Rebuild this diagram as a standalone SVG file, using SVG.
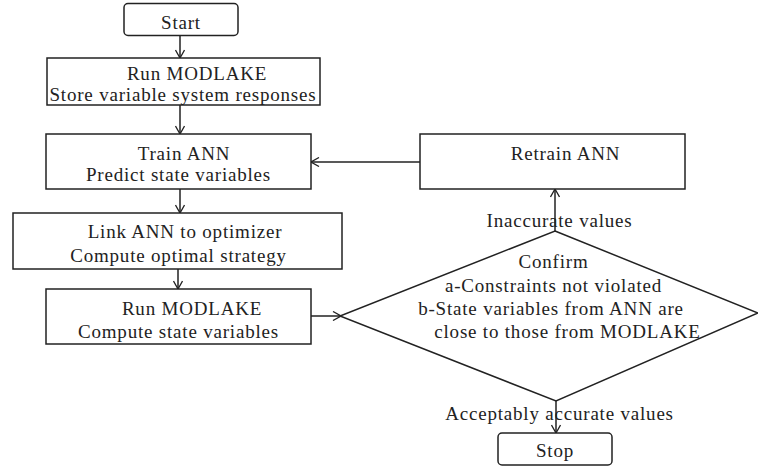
<svg xmlns="http://www.w3.org/2000/svg" width="758" height="467" viewBox="0 0 758 467">
<style>
.box{fill:#fff;stroke:#222;stroke-width:1.5}
.ln{fill:none;stroke:#222;stroke-width:1.5}
text{font-family:"Liberation Serif","Times New Roman",serif;font-size:19px;letter-spacing:0.8px;fill:#222;text-anchor:middle}
</style>
<defs>
<marker id="ah" viewBox="0 0 10 10" refX="9" refY="5" markerWidth="10" markerHeight="10" markerUnits="userSpaceOnUse" orient="auto">
<path d="M1,0.5 L9,5 L1,9.5" fill="none" stroke="#222" stroke-width="1.3"/>
</marker>
</defs>
<rect width="758" height="467" fill="#fff"/>
<g id="connectors">
<line class="ln" x1="180" y1="36" x2="180" y2="58" marker-end="url(#ah)"/>
<line class="ln" x1="180" y1="105" x2="180" y2="134" marker-end="url(#ah)"/>
<line class="ln" x1="180" y1="189" x2="180" y2="213" marker-end="url(#ah)"/>
<line class="ln" x1="178" y1="269" x2="178" y2="289" marker-end="url(#ah)"/>
<line class="ln" x1="311" y1="316" x2="341" y2="316" marker-end="url(#ah)"/>
<line class="ln" x1="555" y1="231" x2="555" y2="189" marker-end="url(#ah)"/>
<line class="ln" x1="420" y1="162" x2="311" y2="162" marker-end="url(#ah)"/>
<line class="ln" x1="556" y1="401" x2="556" y2="433" marker-end="url(#ah)"/>
</g>
<g id="start">
<rect class="box" x="124" y="3.5" width="114" height="32" rx="4"/>
<text x="181" y="29">Start</text>
</g>
<g id="run1">
<rect class="box" x="47" y="58" width="273" height="47"/>
<text x="197" y="79.5">Run MODLAKE</text>
<text x="183" y="100.5">Store variable system responses</text>
</g>
<g id="train">
<rect class="box" x="46" y="134" width="265" height="55"/>
<text x="184" y="160">Train ANN</text>
<text x="178.5" y="181">Predict state variables</text>
</g>
<g id="link">
<rect class="box" x="13" y="213" width="329" height="56"/>
<text x="185" y="238">Link ANN to optimizer</text>
<text x="178.5" y="262">Compute optimal strategy</text>
</g>
<g id="run2">
<rect class="box" x="46" y="289" width="265" height="55"/>
<text x="192" y="315">Run MODLAKE</text>
<text x="178.5" y="338">Compute state variables</text>
</g>
<g id="retrain">
<rect class="box" x="420" y="134" width="265" height="55"/>
<text x="565.5" y="160">Retrain ANN</text>
</g>
<g id="confirm">
<polygon class="box" points="555,231 758,313 556,401 340,316"/>
<text x="553.5" y="268">Confirm</text>
<text x="553.5" y="292">a-Constraints not violated</text>
<text x="551" y="315">b-State variables from ANN are</text>
<text x="567.5" y="338">close to those from MODLAKE</text>
</g>
<g id="stop">
<rect class="box" x="498" y="433" width="114" height="32" rx="4"/>
<text x="555" y="457">Stop</text>
</g>
<g id="labels">
<text x="559.5" y="227">Inaccurate values</text>
<text x="559.5" y="420">Acceptably accurate values</text>
</g>
</svg>
